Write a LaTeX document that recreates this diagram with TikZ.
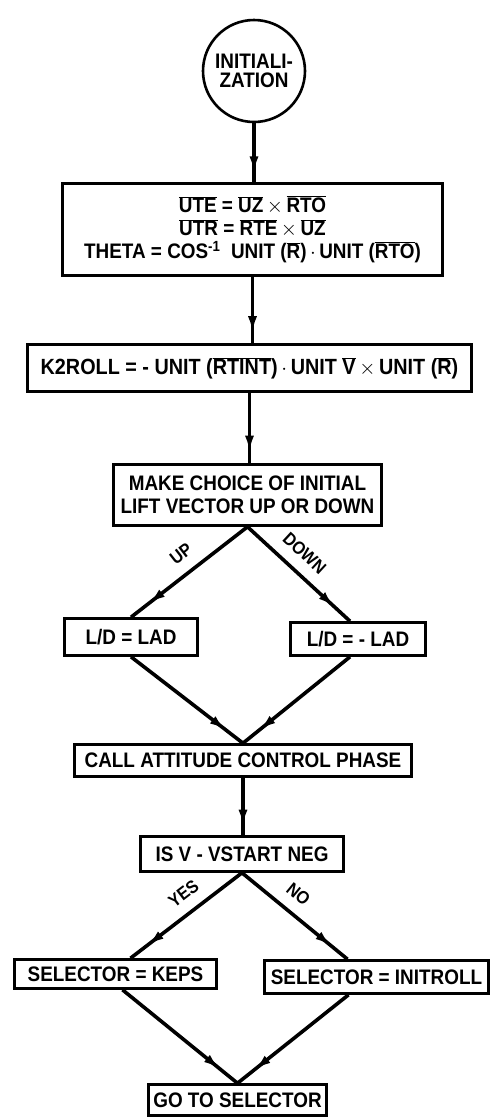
\documentclass[tikz,border=0pt]{standalone}
\usepackage{fontspec}
\setmainfont{Liberation Sans}[FakeStretch=0.9]
\usetikzlibrary{arrows.meta,decorations.markings}
\newcommand{\ovr}[1]{$\overline{\mbox{#1}}$}

\begin{document}
\begin{tikzpicture}[x=1pt,y=-1pt,
    box/.style={draw,line width=2.6pt,inner sep=2pt,align=center,
      font=\bfseries\fontsize{21}{23}\selectfont},
    flow/.style={line width=3.6pt,postaction={decorate},
      decoration={markings,mark=at position 0.85 with {\arrow{Latex[length=17pt,width=9pt]}}}},
    tag/.style={sloped,above=10pt,inner sep=1pt,font=\bfseries\fontsize{18}{18}\selectfont}]
    \useasboundingbox (0,0) rectangle (495,1120);

    % Initialization
    \node[box,circle,minimum size=102pt,font=\bfseries\fontsize{21}{19}\selectfont] (init) at (254,71) {INITIALI-\\ZATION};
    \node[box,minimum width=380pt,minimum height=92pt] (uvec) at (252.5,229.5)
      {\ovr{UTE} = \ovr{UZ}\,$\times$\,\ovr{RTO}\\
       \ovr{UTR} = \ovr{RTE}\,$\times$\,\ovr{UZ}\\
       THETA = COS\textsuperscript{-1}~ UNIT (\ovr{R})\,$\cdot$\,UNIT (\ovr{RTO})};
    \node[box,minimum width=444pt,minimum height=47pt,font=\bfseries\fontsize{22}{23}\selectfont] (kroll) at (249.5,368)
      {K2ROLL = - UNIT (\ovr{RTINT})\,$\cdot$\,UNIT~\ovr{V}\,$\times$\,UNIT (\ovr{R})};
    \draw[flow] (init.south) -- (init.south |- uvec.north);
    \draw[flow] (uvec.south) -- (uvec.south |- kroll.north);

    % Lift vector up or down
    \node[box,minimum width=268pt,minimum height=61pt] (choice) at (247.5,495)
      {MAKE CHOICE OF INITIAL\\LIFT VECTOR UP OR DOWN};
    \node[box,minimum width=133pt,minimum height=37pt] (lad) at (131,637) {L/D = LAD};
    \node[box,minimum width=135pt,minimum height=33pt] (nlad) at (358,639) {L/D = - LAD};
    \node[box,minimum width=337pt,minimum height=32pt] (call) at (243,760.5) {CALL ATTITUDE CONTROL PHASE};
    \draw[flow] (kroll.south) -- (kroll.south |- choice.north);
    \draw[flow] (choice.south) -- node[tag,pos=0.47] {UP} (lad.north);
    \draw[flow] (choice.south) -- node[tag,pos=0.43] {DOWN} ([xshift=-8pt]nlad.north);
    \draw[flow] (lad.south) -- (call.north);
    \draw[flow] ([xshift=-8pt]nlad.south) -- (call.north);

    % Selector
    \node[box,minimum width=203pt,minimum height=35pt] (neg) at (242,854) {IS V - VSTART NEG};
    \node[box,minimum width=202pt,minimum height=29pt] (keps) at (115.5,974) {SELECTOR = KEPS};
    \node[box,minimum width=224pt,minimum height=33pt] (initroll) at (376.5,977) {SELECTOR = INITROLL};
    \node[box,minimum width=178pt,minimum height=31pt] (go) at (237.5,1100) {GO TO SELECTOR};
    \draw[flow] (call.south) -- (call.south |- neg.north);
    \draw[flow] (neg.south) -- node[tag,pos=0.42] {YES} ([xshift=15pt]keps.north);
    \draw[flow] (neg.south) -- node[tag,pos=0.42] {NO} ([xshift=-29pt]initroll.north);
    \draw[flow] ([xshift=7pt]keps.south) -- (go.north);
    \draw[flow] ([xshift=-28pt]initroll.south) -- (go.north);
\end{tikzpicture}
\end{document}
